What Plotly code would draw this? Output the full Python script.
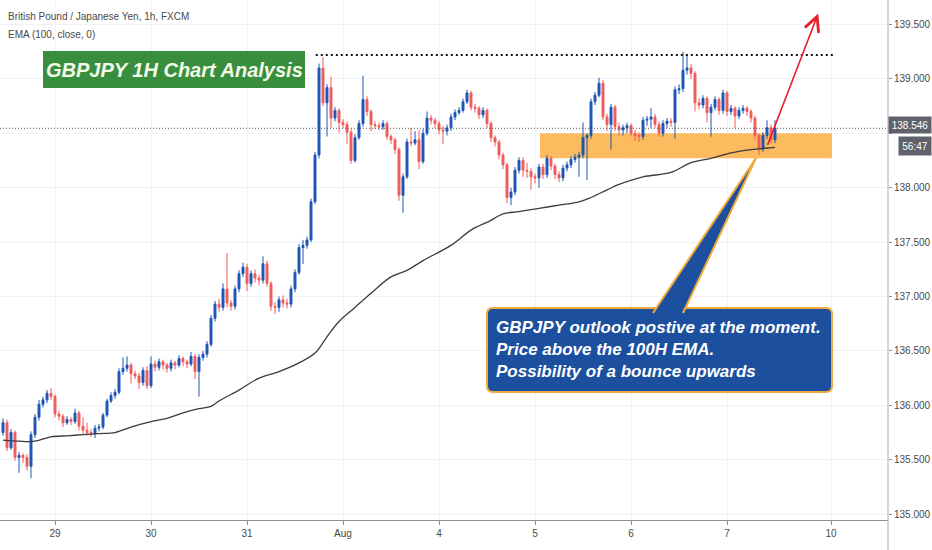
import plotly.graph_objects as go

# GBPJPY hourly bars, index 0 = first visible bar (28 Jul), last = 7 Aug
opens = [135.75, 135.84, 135.61, 135.75, 135.52, 135.54, 135.52, 135.44, 135.73, 135.89,
         136.01, 136.05, 136.11, 136.08, 135.92, 135.90, 135.84, 135.87, 135.85, 135.93,
         135.81, 135.77, 135.75, 135.74, 135.79, 135.80, 135.91, 136.04, 136.09, 136.12,
         136.31, 136.34, 136.37, 136.29, 136.27, 136.21, 136.32, 136.18, 136.38, 136.35,
         136.40, 136.37, 136.34, 136.39, 136.37, 136.43, 136.40, 136.38, 136.45, 136.31,
         136.44, 136.47, 136.56, 136.80, 136.93, 136.90, 137.07, 136.94, 136.91, 137.07,
         137.21, 137.27, 137.12, 137.21, 137.17, 137.15, 137.30, 137.12, 136.91, 136.90,
         136.97, 136.94, 136.93, 137.07, 137.22, 137.45, 137.47, 137.52, 137.87, 138.30,
         139.10, 138.78, 138.92, 138.64, 138.71, 138.60, 138.58, 138.51, 138.25, 138.46,
         138.59, 138.81, 138.70, 138.58, 138.57, 138.56, 138.59, 138.47, 138.44, 138.35,
         137.93, 138.10, 138.42, 138.41, 138.44, 138.24, 138.50, 138.64, 138.62, 138.59,
         138.53, 138.52, 138.55, 138.65, 138.69, 138.71, 138.79, 138.87, 138.74, 138.73,
         138.67, 138.71, 138.59, 138.46, 138.42, 138.30, 138.21, 137.91, 137.96, 138.16,
         138.25, 138.16, 138.15, 138.10, 138.09, 138.19, 138.12, 138.27, 138.20, 138.12,
         138.09, 138.18, 138.21, 138.26, 138.28, 138.30, 138.46, 138.48, 138.79, 138.85,
         138.96, 138.65, 138.58, 138.74, 138.56, 138.53, 138.55, 138.57, 138.50, 138.48,
         138.47, 138.62, 138.63, 138.65, 138.58, 138.50, 138.59, 138.61, 138.60, 138.90,
         138.91, 139.08, 139.10, 139.05, 138.78, 138.76, 138.82, 138.69, 138.74, 138.81,
         138.71, 138.87, 138.70, 138.73, 138.66, 138.71, 138.73, 138.70, 138.64, 138.48,
         138.36, 138.48, 138.55, 138.44]
highs = [135.88, 135.87, 135.78, 135.77, 135.57, 135.56, 135.55, 135.76, 135.92, 136.05,
         136.08, 136.14, 136.16, 136.10, 135.95, 135.92, 135.90, 135.89, 135.97, 135.95,
         135.89, 135.84, 135.78, 135.82, 135.83, 135.93, 136.06, 136.12, 136.15, 136.34,
         136.44, 136.45, 136.39, 136.32, 136.30, 136.35, 136.36, 136.45, 136.41, 136.43,
         136.42, 136.39, 136.42, 136.41, 136.46, 136.45, 136.42, 136.49, 136.47, 136.47,
         136.50, 136.59, 136.83, 136.96, 136.98, 137.12, 137.40, 136.97, 137.10, 137.24,
         137.31, 137.30, 137.24, 137.25, 137.20, 137.37, 137.33, 137.14, 136.95, 137.00,
         137.01, 136.98, 137.10, 137.25, 137.48, 137.52, 137.55, 137.90, 138.33, 139.14,
         139.20, 138.95, 139.02, 138.74, 138.73, 138.63, 138.61, 138.54, 138.49, 138.62,
         139.03, 138.84, 138.72, 138.61, 138.60, 138.62, 138.61, 138.49, 138.46, 138.37,
         138.13, 138.45, 138.55, 138.52, 138.53, 138.54, 138.70, 138.67, 138.64, 138.61,
         138.57, 138.58, 138.68, 138.72, 138.74, 138.82, 138.90, 138.89, 138.77, 138.75,
         138.74, 138.73, 138.61, 138.48, 138.44, 138.32, 138.23, 138.00, 138.19, 138.28,
         138.28, 138.23, 138.18, 138.13, 138.22, 138.22, 138.30, 138.29, 138.22, 138.15,
         138.21, 138.24, 138.29, 138.31, 138.33, 138.60, 138.50, 138.82, 138.88, 139.01,
         138.99, 138.68, 138.77, 138.76, 138.60, 138.58, 138.60, 138.59, 138.53, 138.51,
         138.65, 138.66, 138.73, 138.68, 138.61, 138.62, 138.64, 138.64, 138.93, 138.95,
         139.25, 139.23, 139.14, 139.07, 138.82, 138.85, 138.84, 138.77, 138.84, 138.83,
         138.90, 138.89, 138.76, 138.75, 138.74, 138.76, 138.75, 138.72, 138.66, 138.50,
         138.51, 138.62, 138.58, 138.62]
lows = [135.72, 135.58, 135.59, 135.49, 135.38, 135.47, 135.40, 135.33, 135.70, 135.86,
        135.98, 136.02, 136.05, 135.89, 135.86, 135.80, 135.82, 135.82, 135.83, 135.77,
        135.74, 135.72, 135.71, 135.70, 135.76, 135.78, 135.89, 136.02, 136.06, 136.10,
        136.28, 136.31, 136.20, 136.24, 136.15, 136.18, 136.15, 136.16, 136.31, 136.32,
        136.33, 136.30, 136.31, 136.33, 136.35, 136.36, 136.34, 136.36, 136.24, 136.08,
        136.41, 136.44, 136.54, 136.77, 136.86, 136.87, 136.90, 136.87, 136.88, 137.04,
        137.18, 137.05, 137.09, 137.13, 137.10, 137.12, 137.09, 136.87, 136.84, 136.86,
        136.90, 136.89, 136.90, 137.04, 137.20, 137.30, 137.44, 137.50, 137.85, 138.27,
        138.75, 138.47, 138.55, 138.61, 138.50, 138.55, 138.40, 138.22, 138.23, 138.44,
        138.56, 138.66, 138.52, 138.54, 138.53, 138.53, 138.44, 138.40, 138.31, 137.88,
        137.77, 138.08, 138.38, 138.39, 138.17, 138.22, 138.48, 138.58, 138.55, 138.49,
        138.40, 138.48, 138.52, 138.62, 138.67, 138.69, 138.77, 138.71, 138.69, 138.63,
        138.64, 138.55, 138.42, 138.38, 138.26, 138.17, 137.86, 137.84, 137.93, 138.13,
        138.10, 138.09, 137.98, 138.04, 138.00, 138.08, 138.09, 138.16, 138.08, 138.05,
        138.06, 138.15, 138.18, 138.23, 138.10, 138.27, 138.07, 138.45, 138.76, 138.83,
        138.62, 138.52, 138.35, 138.52, 138.48, 138.48, 138.50, 138.47, 138.43, 138.42,
        138.44, 138.57, 138.55, 138.55, 138.47, 138.47, 138.55, 138.56, 138.45, 138.86,
        138.88, 139.04, 139.00, 138.70, 138.72, 138.73, 138.60, 138.47, 138.71, 138.67,
        138.68, 138.66, 138.67, 138.55, 138.63, 138.68, 138.66, 138.60, 138.44, 138.30,
        138.33, 138.45, 138.41, 138.41]
closes = [135.84, 135.61, 135.75, 135.52, 135.54, 135.52, 135.44, 135.73, 135.89, 136.01,
          136.05, 136.11, 136.08, 135.92, 135.90, 135.84, 135.87, 135.85, 135.93, 135.81,
          135.77, 135.75, 135.74, 135.79, 135.80, 135.91, 136.04, 136.09, 136.12, 136.31,
          136.34, 136.37, 136.29, 136.27, 136.21, 136.32, 136.18, 136.38, 136.35, 136.40,
          136.37, 136.34, 136.39, 136.37, 136.43, 136.40, 136.38, 136.45, 136.31, 136.44,
          136.47, 136.56, 136.80, 136.93, 136.90, 137.07, 136.94, 136.91, 137.07, 137.21,
          137.27, 137.12, 137.21, 137.17, 137.15, 137.30, 137.12, 136.91, 136.90, 136.97,
          136.94, 136.93, 137.07, 137.22, 137.45, 137.47, 137.52, 137.87, 138.30, 139.10,
          138.78, 138.92, 138.64, 138.71, 138.60, 138.58, 138.51, 138.25, 138.46, 138.59,
          138.81, 138.70, 138.58, 138.57, 138.56, 138.59, 138.47, 138.44, 138.35, 137.93,
          138.10, 138.42, 138.41, 138.44, 138.24, 138.50, 138.64, 138.62, 138.59, 138.53,
          138.52, 138.55, 138.65, 138.69, 138.71, 138.79, 138.87, 138.74, 138.73, 138.67,
          138.71, 138.59, 138.46, 138.42, 138.30, 138.21, 137.91, 137.96, 138.16, 138.25,
          138.16, 138.15, 138.10, 138.09, 138.19, 138.12, 138.27, 138.20, 138.12, 138.09,
          138.18, 138.21, 138.26, 138.28, 138.30, 138.46, 138.48, 138.79, 138.85, 138.96,
          138.65, 138.58, 138.74, 138.56, 138.53, 138.55, 138.57, 138.50, 138.48, 138.47,
          138.62, 138.63, 138.65, 138.58, 138.50, 138.59, 138.61, 138.60, 138.90, 138.91,
          139.08, 139.10, 139.05, 138.78, 138.76, 138.82, 138.69, 138.74, 138.81, 138.71,
          138.87, 138.70, 138.73, 138.66, 138.71, 138.73, 138.70, 138.64, 138.48, 138.36,
          138.48, 138.55, 138.44, 138.546]
bars = list(range(len(closes)))

# EMA(100) at a few bars
ema_bar = [0, 4, 8, 12, 16, 20, 24, 28, 32, 37, 41, 45, 49, 52, 54, 59, 64, 69, 74, 78,
           81, 84, 88, 92, 97, 101, 105, 112, 117, 122, 125, 129, 134, 139, 144, 147, 151,
           154, 160, 167, 172, 177, 182, 187, 190, 193]
ema_val = [135.68, 135.67, 135.67, 135.71, 135.72, 135.73, 135.74, 135.75, 135.80, 135.85,
           135.88, 135.93, 135.97, 135.99, 136.04, 136.14, 136.25, 136.31, 136.39, 136.48,
           136.63, 136.77, 136.90, 137.03, 137.18, 137.24, 137.33, 137.47, 137.61, 137.70,
           137.76, 137.78, 137.81, 137.84, 137.87, 137.91, 137.98, 138.03, 138.10, 138.14,
           138.23, 138.27, 138.32, 138.35, 138.36, 138.37]

day_bar = [13, 37, 61, 85, 109, 133, 157, 181, 207]
day_labels = ["29", "30", "31", "Aug", "4", "5", "6", "7", "10"]
price_ticks = [135.0, 135.5, 136.0, 136.5, 137.0, 137.5, 138.0, 138.5, 139.0, 139.5]
price_labels = ["135.000", "135.500", "136.000", "136.500", "137.000", "137.500",
                "138.000", "", "139.000", "139.500"]

resistance = 139.22
zone_top, zone_bottom = 138.50, 138.27
last_price = 138.546
countdown = "56:47"

FONT = "Liberation Sans, Arial, sans-serif"
W, H = 932, 550
PW, PH = 888, 520  # plot area in px


def px(x, y):
    """pixel position in the plot area -> paper coords"""
    return x / PW, 1 - y / PH


fig = go.Figure()
fig.add_trace(go.Candlestick(x=bars, open=opens, high=highs, low=lows, close=closes,
                             increasing=dict(line=dict(color="#1f56b5", width=1),
                                             fillcolor="#1f56b5"),
                             decreasing=dict(line=dict(color="#ef5d5d", width=1),
                                             fillcolor="#ef5d5d"),
                             whiskerwidth=0, showlegend=False, hoverinfo="skip"))
fig.add_trace(go.Scatter(x=ema_bar, y=ema_val, mode="lines", line_shape="spline",
                         line=dict(color="#3c3c3c", width=1.3), showlegend=False,
                         hoverinfo="skip"))

shapes = []
# support zone
shapes.append(dict(type="rect", xref="x", yref="y", x0=134.25, x1=207.25,
                   y0=zone_bottom, y1=zone_top, fillcolor="#fdbb5f",
                   line=dict(width=0), layer="between"))
# resistance dotted line
shapes.append(dict(type="line", xref="x", yref="y", x0=78.2, x1=208, y0=resistance,
                   y1=resistance, line=dict(color="#111111", width=2, dash="2px,3px")))
# last price line
shapes.append(dict(type="line", xref="paper", yref="y", x0=0, x1=1, y0=last_price,
                   y1=last_price, line=dict(color="#555555", width=1, dash="1px,2px")))

# title box
tx0, ty0 = px(43, 51)
tx1, ty1 = px(305, 88)
shapes.append(dict(type="rect", xref="paper", yref="paper", x0=tx0, x1=tx1, y0=ty1, y1=ty0,
                   fillcolor="#388e3c", line=dict(width=0)))

# callout box with rounded corners
bx0, byt = px(487, 308)
bx1, byb = px(832, 392)
rx, ry = 6 / PW, 6 / PH
box_path = (f"M{bx0 + rx},{byt} L{bx1 - rx},{byt} Q{bx1},{byt} {bx1},{byt - ry} "
            f"L{bx1},{byb + ry} Q{bx1},{byb} {bx1 - rx},{byb} L{bx0 + rx},{byb} "
            f"Q{bx0},{byb} {bx0},{byb + ry} L{bx0},{byt - ry} Q{bx0},{byt} {bx0 + rx},{byt} Z")
shapes.append(dict(type="path", xref="paper", yref="paper", path=box_path,
                   fillcolor="#1c4f9e", line=dict(color="#f2a93b", width=2)))
# pointer of the callout
pl = px(653, 313)
pt = px(756, 158)
pr = px(683, 313)
shapes.append(dict(type="path", xref="paper", yref="paper",
                   path=f"M{pl[0]},{pl[1]} L{pt[0]},{pt[1]} L{pr[0]},{pr[1]}",
                   fillcolor="#1c4f9e", line=dict(color="#f2a93b", width=2)))

# right price axis line running to the bottom
shapes.append(dict(type="line", xref="paper", yref="paper", x0=1, x1=1, y0=-30 / PH, y1=1,
                   line=dict(color="#a9abb2", width=1)))

annotations = []
for txt, yy in [("British Pound / Japanese Yen, 1h, FXCM", 17), ("EMA (100, close, 0)", 35)]:
    ax_, ay_ = px(6, yy)
    annotations.append(dict(text=txt, xref="paper", yref="paper", x=ax_, y=ay_,
                            xanchor="left", yanchor="middle", showarrow=False,
                            font=dict(family=FONT, size=10, color="#4a4a4a")))
ax_, ay_ = px(174, 70)
annotations.append(dict(text="<b><i>GBPJPY 1H Chart Analysis</i></b>", xref="paper",
                        yref="paper", x=ax_, y=ay_, xanchor="center", yanchor="middle",
                        showarrow=False, font=dict(family=FONT, size=20, color="#f3faea")))
ax_, ay_ = px(494, 349)
annotations.append(dict(text="<b><i>GBPJPY outlook postive at the moment.<br>"
                             "Price above the 100H EMA.<br>"
                             "Possibility of a bounce upwards</i></b>",
                        xref="paper", yref="paper", x=ax_, y=ay_, xanchor="left",
                        yanchor="middle", align="left", showarrow=False,
                        font=dict(family=FONT, size=17, color="#ffffff")))
# last price tag and bar countdown on the price scale
ax_, ay_ = px(932, 125)
annotations.append(dict(text=f"{last_price:.3f}", xref="paper", yref="paper", x=ax_, y=ay_,
                        xanchor="right", yanchor="middle", showarrow=False,
                        width=40, height=14, borderpad=1, bgcolor="#5f626c",
                        font=dict(family=FONT, size=10, color="#ffffff")))
ax_, ay_ = px(932, 146)
annotations.append(dict(text=countdown, xref="paper", yref="paper", x=ax_, y=ay_,
                        xanchor="right", yanchor="middle", showarrow=False,
                        width=30, height=16, borderpad=1, bgcolor="#5f626c",
                        font=dict(family=FONT, size=10, color="#ffffff")))
# red arrow pointing up
annotations.append(dict(x=203.8, y=139.60, ax=191, ay=138.38, xref="x", yref="y",
                        axref="x", ayref="y", text="", showarrow=True, arrowhead=5,
                        arrowsize=1.8, arrowwidth=1.6, arrowcolor="#e8202a"))

fig.update_layout(
    width=W, height=H, margin=dict(l=0, r=W - PW, t=0, b=H - PH),
    paper_bgcolor="white", plot_bgcolor="white",
    shapes=shapes, annotations=annotations,
    font=dict(family=FONT, size=10, color="#4a4a4a"),
    xaxis=dict(range=[-0.75, 221.25], tickmode="array", tickvals=day_bar,
               ticktext=day_labels, showgrid=True, gridcolor="#f0f2f6", zeroline=False,
               showline=True, linecolor="#8c8e94", linewidth=1, ticks="outside",
               ticklen=4, tickcolor="#8c8e94", rangeslider=dict(visible=False),
               tickfont=dict(family=FONT, size=10, color="#4a4a4a"), fixedrange=True),
    yaxis=dict(range=[134.946, 139.725], side="right", tickmode="array",
               tickvals=price_ticks, ticktext=price_labels, showgrid=True,
               gridcolor="#f0f2f6", zeroline=False, showline=False, ticks="outside",
               ticklen=3, tickcolor="#8c8e94",
               tickfont=dict(family=FONT, size=10, color="#4a4a4a"), fixedrange=True),
)

# the page gets a default 8px body margin; drop it so the figure sits at 0,0
fig.write_html("out.html", config={"displayModeBar": False},
               post_script="document.body.style.margin='0';")
